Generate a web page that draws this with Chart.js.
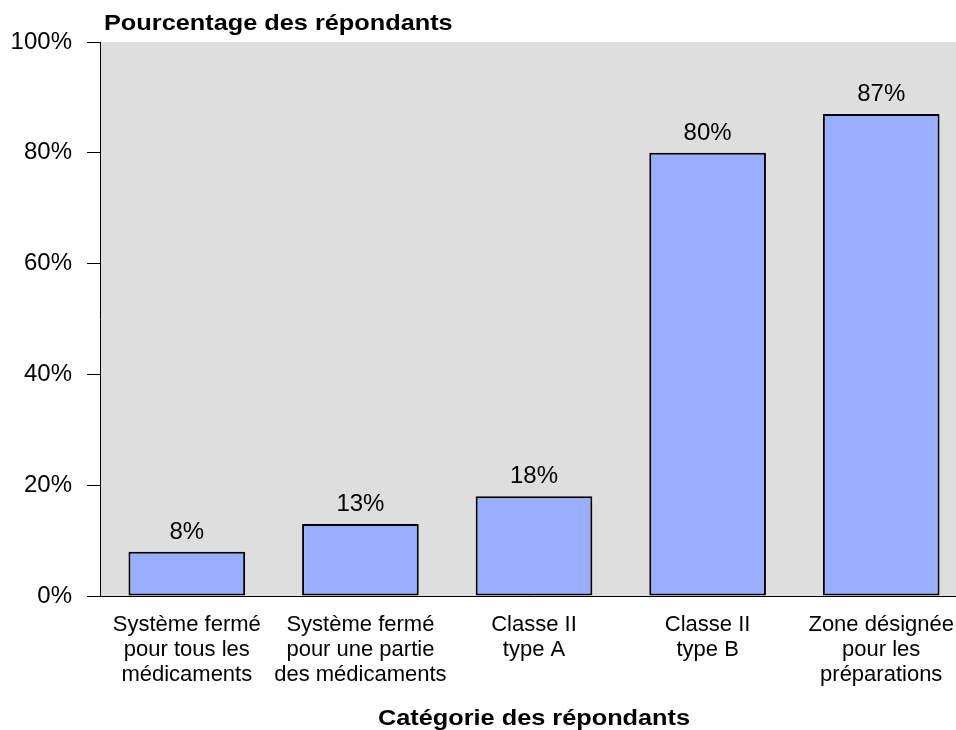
<!DOCTYPE html>
<html><head><meta charset="utf-8">
<script src="https://cdn.jsdelivr.net/npm/chart.js@4"></script>
<style>
html,body{margin:0;padding:0;background:#fff;overflow:hidden;width:956px;height:730px;}
#wrap{width:970px;height:730px;position:relative;}
</style></head><body>
<div id="wrap"><canvas id="c"></canvas></div>
<script>
const categories = [
  ["Système fermé","pour tous les","médicaments"],
  ["Système fermé","pour une partie","des médicaments"],
  ["Classe II","type A"],
  ["Classe II","type B"],
  ["Zone désignée","pour les","préparations"]
];
const values = [8, 13, 18, 80, 87];
const yTicks = [0, 20, 40, 60, 80, 100];
const yTitle = "Pourcentage des répondants";
const xTitle = "Catégorie des répondants";

const FONT = "'Liberation Sans', Arial, sans-serif";

const bgPlugin = {
  id: 'bg',
  beforeDraw(chart) {
    const {ctx, chartArea: a} = chart;
    ctx.save();
    ctx.fillStyle = '#DEDEDE';
    ctx.fillRect(a.left, a.top, a.right - a.left, a.bottom - a.top);
    ctx.restore();
  }
};
function wideText(ctx, text, x, y, sx, align) {
  ctx.save();
  ctx.translate(x, y);
  ctx.scale(sx, 1);
  ctx.textAlign = align;
  ctx.fillText(text, 0, 0);
  ctx.restore();
}
const labelPlugin = {
  id: 'labels',
  afterDatasetsDraw(chart) {
    const ctx = chart.ctx;
    const a = chart.chartArea;
    const meta = chart.getDatasetMeta(0);
    ctx.save();
    ctx.fillStyle = '#000';
    ctx.font = '24px ' + FONT;
    ctx.textAlign = 'center';
    ctx.textBaseline = 'alphabetic';
    meta.data.forEach((el, i) => {
      ctx.fillText(values[i] + '%', el.x, el.y - 13);
    });
    ctx.font = 'bold 22px ' + FONT;
    ctx.textBaseline = 'alphabetic';
    wideText(ctx, yTitle, 104, 30, 1.15, 'left');
    wideText(ctx, xTitle, (a.left + a.right) / 2, 725, 1.15, 'center');
    ctx.restore();
  }
};

new Chart(document.getElementById('c'), {
  type: 'bar',
  data: {
    labels: categories,
    datasets: [{
      data: values,
      backgroundColor: 'rgb(153,174,255)',
      borderColor: '#000',
      borderWidth: 2,
      borderSkipped: false,
      categoryPercentage: 1,
      barPercentage: 0.672
    }]
  },
  options: {
    responsive: true,
    maintainAspectRatio: false,
    animation: false,
    devicePixelRatio: 1,
    layout: {padding: {top: 42, left: 0, right: 0, bottom: 0}},
    plugins: {legend: {display: false}, tooltip: {enabled: false}, title: {display: false}},
    scales: {
      x: {
        offset: true,
        grid: {display: false, drawTicks: false},
        border: {display: true, color: '#000', width: 1},
        ticks: {color: '#000', font: {family: FONT, size: 22, lineHeight: 25/22}, padding: 16, maxRotation: 0, autoSkip: false},
        afterFit(s) { s.height = 134; }
      },
      y: {
        min: 0, max: 100,
        afterBuildTicks(s) { s.ticks = yTicks.map(v => ({value: v})); },
        grid: {drawOnChartArea: false, drawTicks: true, tickLength: 13, color: '#000'},
        border: {display: true, color: '#000', width: 1},
        ticks: {color: '#000', font: {family: FONT, size: 24}, padding: 15, callback: v => v + '%'},
        afterFit(s) { s.width = 100; }
      }
    }
  },
  plugins: [bgPlugin, labelPlugin]
});
</script>
</body></html>
